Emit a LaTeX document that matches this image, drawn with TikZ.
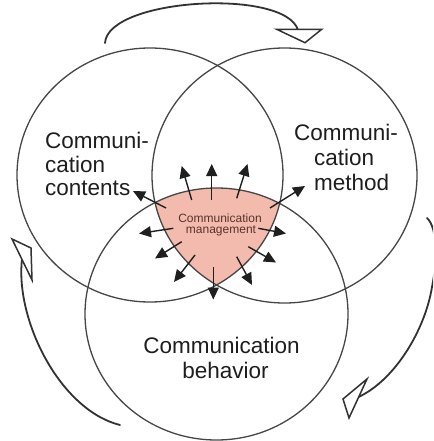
\documentclass[tikz,border=0pt]{standalone}
\usepackage{fontspec}
\setmainfont{Liberation Sans}
\usetikzlibrary{arrows.meta}
\definecolor{salmon}{RGB}{243,187,173}
\definecolor{ringgray}{RGB}{70,70,70}
\definecolor{curvegray}{RGB}{50,50,50}
\definecolor{labeltext}{RGB}{30,30,30}
\definecolor{mgmttext}{RGB}{90,50,45}
\tikzset{
  ring/.style={draw=ringgray, line width=1.3pt},
  outarrow/.style={draw=black!88, line width=1.4pt, -{Triangle[length=12pt,width=11pt]}},
  cyclecurve/.style={draw=curvegray, line width=1.8pt, line cap=round},
  cyclehead/.style={draw=curvegray, line width=1.5pt, fill=white, line join=miter},
  biglabel/.style={inner sep=0pt, text=labeltext, font=\fontsize{22.5}{24}\selectfont},
  smalllabel/.style={inner sep=0pt, text=mgmttext, font=\fontsize{12}{12}\selectfont}
}
\begin{document}
\begin{tikzpicture}[x=1pt,y=-1pt]
\useasboundingbox (0,0) rectangle (433,441);
\clip (0,0) rectangle (433,441);
\fill[white] (0,0) rectangle (433,441);
% shaded common region
\begin{scope}
  \clip (150,175) ellipse [x radius=133pt, y radius=127pt];
  \clip (284.5,175.5) ellipse [x radius=132.5pt, y radius=127.5pt];
  \fill[salmon] (216.5,314) ellipse [x radius=131.5pt, y radius=126pt];
\end{scope}
% circles
\draw[ring] (150,175) ellipse [x radius=133pt, y radius=127pt];
\draw[ring] (284.5,175.5) ellipse [x radius=132.5pt, y radius=127.5pt];
\draw[ring] (216.5,314) ellipse [x radius=131.5pt, y radius=126pt];
% outward arrows
\coordinate (t1) at (191.7,200);   \coordinate (h1) at (181.7,166);
\coordinate (t2) at (211.7,200);   \coordinate (h2) at (211.7,164);
\coordinate (t3) at (236.7,198.3); \coordinate (h3) at (247.5,164);
\coordinate (t4) at (166,208);     \coordinate (h4) at (133,191);
\coordinate (t5) at (270,208);     \coordinate (h5) at (305,186);
\coordinate (t6) at (173.3,228.3); \coordinate (h6) at (139,233.5);
\coordinate (t7) at (258.3,228.3); \coordinate (h7) at (286,233.5);
\coordinate (t8) at (181.7,241.7); \coordinate (h8) at (155,258.5);
\coordinate (t9) at (248.3,246.7); \coordinate (h9) at (276,262.5);
\coordinate (t10) at (195,255);    \coordinate (h10) at (174,282);
\coordinate (t11) at (236.7,256.7);\coordinate (h11) at (252,285);
\coordinate (t12) at (213.3,266.7);\coordinate (h12) at (213.3,299.5);
\foreach \i in {1,...,12} {\draw[outarrow] (t\i) -- (h\i);}
% labels
\node[biglabel, anchor=base west] (cc1) at (45,148) {Communi-};
\node[biglabel, anchor=base west] (cc2) at (45,172) {cation};
\node[biglabel, anchor=base west] (cc3) at (45,195.5) {contents};
\node[biglabel, anchor=base west] (cm1) at (294,140) {Communi-};
\node[biglabel, anchor=base west] (cm2) at (314,165) {cation};
\node[biglabel, anchor=base west] (cm3) at (314,190) {method};
\node[biglabel, anchor=base] (cb1) at (221.5,353) {Communication};
\node[biglabel, anchor=base] (cb2) at (225.5,378) {behavior};
\node[smalllabel, anchor=base] (mg1) at (220,222) {Communication};
\node[smalllabel, anchor=base] (mg2) at (221,233.3) {management};
% cycle arrows
\coordinate (topS) at (105,43);
\coordinate (topE) at (298,30);
\draw[cyclecurve] (topS) .. controls (108,-2) and (285,-12) .. (topE);
\draw[cyclehead] (276.7,29.3) -- (321.7,29.3) -- (305,42.7) -- cycle;
\coordinate (rightS) at (427,218);
\coordinate (rightM) at (432,287);
\coordinate (rightE) at (358.5,397);
\draw[cyclecurve] (rightS) .. controls (438,228) and (437,262) .. (rightM)
   .. controls (425,330) and (395,380) .. (rightE);
\draw[cyclehead] (367,379) -- (343,399) -- (349,418) -- cycle;
\coordinate (leftS) at (120,425);
\coordinate (leftE) at (22,259);
\draw[cyclecurve] (leftS) .. controls (60,410) and (15,320) .. (leftE);
\draw[cyclehead] (12,239) -- (31,248) -- (32,280) -- cycle;
\end{tikzpicture}
\end{document}
